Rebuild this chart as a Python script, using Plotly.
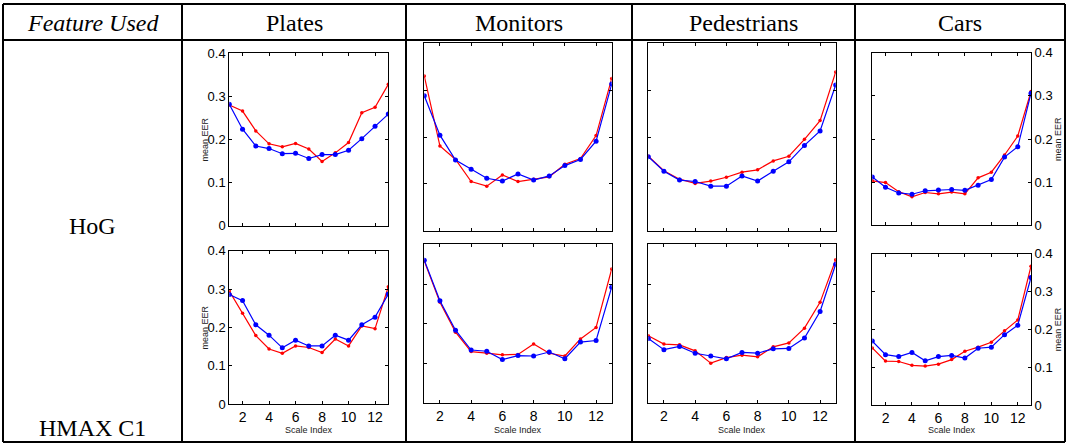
import plotly.graph_objects as go

W, H = 1068, 444

categories = ["Plates", "Monitors", "Pedestrians", "Cars"]
features = ["HoG", "HMAX C1"]
scale_index = list(range(1, 14))
x_tick_vals = [2, 4, 6, 8, 10, 12]
y_tick_vals = [0, 0.1, 0.2, 0.3, 0.4]
y_tick_text = ["0", "0.1", "0.2", "0.3", "0.4"]

# HoG row
plates_hog_red = [0.280, 0.266, 0.220, 0.190, 0.183, 0.191, 0.178, 0.149, 0.169, 0.193, 0.262, 0.275, 0.328]
plates_hog_blue = [0.282, 0.224, 0.185, 0.179, 0.167, 0.168, 0.156, 0.165, 0.165, 0.175, 0.202, 0.231, 0.259]
monitors_hog_red = [0.330, 0.181, 0.152, 0.105, 0.095, 0.119, 0.105, 0.110, 0.115, 0.142, 0.154, 0.203, 0.325]
monitors_hog_blue = [0.288, 0.204, 0.151, 0.131, 0.112, 0.106, 0.121, 0.108, 0.117, 0.139, 0.152, 0.191, 0.313]
peds_hog_red = [0.159, 0.128, 0.110, 0.101, 0.106, 0.114, 0.125, 0.130, 0.149, 0.159, 0.195, 0.235, 0.339]
peds_hog_blue = [0.158, 0.127, 0.108, 0.105, 0.095, 0.095, 0.117, 0.106, 0.127, 0.147, 0.182, 0.213, 0.311]
cars_hog_red = [0.103, 0.099, 0.078, 0.066, 0.076, 0.073, 0.077, 0.073, 0.110, 0.123, 0.163, 0.207, 0.310]
cars_hog_blue = [0.112, 0.088, 0.075, 0.072, 0.080, 0.082, 0.083, 0.081, 0.093, 0.106, 0.158, 0.182, 0.306]

# HMAX C1 row
plates_hmax_red = [0.295, 0.237, 0.179, 0.144, 0.133, 0.152, 0.148, 0.135, 0.170, 0.152, 0.204, 0.197, 0.306]
plates_hmax_blue = [0.286, 0.270, 0.207, 0.180, 0.147, 0.167, 0.152, 0.152, 0.180, 0.167, 0.207, 0.227, 0.287]
monitors_hmax_red = [0.358, 0.254, 0.179, 0.130, 0.126, 0.122, 0.123, 0.149, 0.126, 0.119, 0.162, 0.191, 0.338]
monitors_hmax_blue = [0.360, 0.258, 0.184, 0.134, 0.131, 0.110, 0.120, 0.119, 0.129, 0.112, 0.154, 0.158, 0.292]
peds_hmax_red = [0.170, 0.149, 0.147, 0.132, 0.101, 0.115, 0.121, 0.117, 0.142, 0.152, 0.189, 0.254, 0.361]
peds_hmax_blue = [0.163, 0.135, 0.143, 0.126, 0.119, 0.112, 0.128, 0.126, 0.137, 0.138, 0.164, 0.231, 0.350]
cars_hmax_red = [0.151, 0.116, 0.115, 0.105, 0.103, 0.108, 0.120, 0.142, 0.153, 0.166, 0.196, 0.225, 0.367]
cars_hmax_blue = [0.169, 0.133, 0.128, 0.139, 0.117, 0.128, 0.131, 0.124, 0.150, 0.153, 0.186, 0.211, 0.337]

panels = [
    (plates_hog_red, plates_hog_blue),
    (monitors_hog_red, monitors_hog_blue),
    (peds_hog_red, peds_hog_blue),
    (cars_hog_red, cars_hog_blue),
    (plates_hmax_red, plates_hmax_blue),
    (monitors_hmax_red, monitors_hmax_blue),
    (peds_hmax_red, peds_hmax_blue),
    (cars_hmax_red, cars_hmax_blue),
]

# pixel boxes (x0, x1, y0_top, y1_bottom)
boxes = [
    (229.3, 388.3, 53.3, 225.7),
    (424.3, 611.7, 43.3, 230.7),
    (648.3, 835.7, 43.3, 230.7),
    (872.3, 1031.0, 52.7, 225.3),
    (229.3, 388.3, 250.7, 404.3),
    (424.3, 611.7, 244.3, 403.3),
    (648.3, 835.7, 244.3, 403.3),
    (872.3, 1031.0, 253.7, 405.0),
]

def px(x):
    return x / W

def py(y):
    return 1 - y / H

fig = go.Figure()
layout = dict(
    width=W, height=H, margin=dict(l=0, r=0, t=0, b=0, pad=0, autoexpand=False),
    paper_bgcolor="white", plot_bgcolor="white", showlegend=False,
)

xtick_font = dict(family="Liberation Sans, Arial", size=14, color="black")
ytick_font = dict(family="Liberation Sans, Arial", size=13, color="black")
small = dict(family="Liberation Sans, Arial", size=9, color="#222")
annotations = []

def note(x, y, text, font, angle=0):
    annotations.append(dict(x=px(x), y=py(y), xref="paper", yref="paper", text=text,
                            textangle=angle, showarrow=False, font=font,
                            xanchor="center", yanchor="middle"))

for i, ((red, blue), (x0, x1, yt, yb)) in enumerate(zip(panels, boxes)):
    n = i + 1
    xa = "x" if n == 1 else f"x{n}"
    ya = "y" if n == 1 else f"y{n}"
    col = i % 4
    row = i // 4
    fig.add_trace(go.Scatter(x=scale_index, y=red, xaxis=xa, yaxis=ya, mode="lines+markers",
                             line=dict(color="#ff0000", width=1.2),
                             marker=dict(color="#ff0000", size=3.5)))
    fig.add_trace(go.Scatter(x=scale_index, y=blue, xaxis=xa, yaxis=ya, mode="lines+markers",
                             line=dict(color="#0000ff", width=1.2),
                             marker=dict(color="#0000ff", size=5)))
    xkey = "xaxis" if n == 1 else f"xaxis{n}"
    ykey = "yaxis" if n == 1 else f"yaxis{n}"
    layout[xkey] = dict(
        domain=[px(x0), px(x1)], anchor=ya, range=[1, 13],
        tickvals=x_tick_vals, ticks="inside", ticklen=3, tickcolor="black",
        showline=True, linecolor="black", linewidth=1, mirror="ticks",
        showgrid=False, zeroline=False, showticklabels=(row == 1),
        tickfont=xtick_font,
    )
    layout[ykey] = dict(
        domain=[py(yb), py(yt)], anchor=xa, range=[0, 0.4],
        tickvals=y_tick_vals, ticktext=y_tick_text, ticks="inside", ticklen=3, tickcolor="black",
        showline=True, linecolor="black", linewidth=1, mirror="ticks",
        showgrid=False, zeroline=False, showticklabels=(col in (0, 3)),
        side="right" if col == 3 else "left",
        tickfont=ytick_font,
    )
    if col == 0:
        note(204, (yt + yb) / 2, "mean EER", small, -90)
    if col == 3:
        note(1058, (yt + yb) / 2, "mean EER", small, -90)
    if row == 1:
        note((x0 + x1) / 2, 430, "Scale Index", small)

# table grid
col_lines = [3, 182, 406, 632, 855, 1065]
top_y, head_y, bot_y = 4, 40, 442
shapes = []
line = dict(color="black", width=2)
for yy in (top_y, head_y, bot_y):
    shapes.append(dict(type="line", xref="paper", yref="paper", x0=px(col_lines[0]), x1=px(col_lines[-1]),
                       y0=py(yy), y1=py(yy), line=line))
for cx in col_lines:
    shapes.append(dict(type="line", xref="paper", yref="paper", x0=px(cx), x1=px(cx),
                       y0=py(top_y), y1=py(bot_y), line=line))

serif = dict(family="Liberation Serif, Times New Roman", size=24, color="black")
note((col_lines[0] + col_lines[1]) / 2, 23, "<i>Feature Used</i>", serif)
for j, name in enumerate(categories):
    note((col_lines[j + 1] + col_lines[j + 2]) / 2, 23, name, serif)
note(92, 226, features[0], serif)
note(92, 428, features[1], serif)

layout["shapes"] = shapes
layout["annotations"] = annotations
fig.update_layout(**layout)
fig.write_html("out.html", config={"displayModeBar": False},
               post_script="document.body.style.margin='0px';")
